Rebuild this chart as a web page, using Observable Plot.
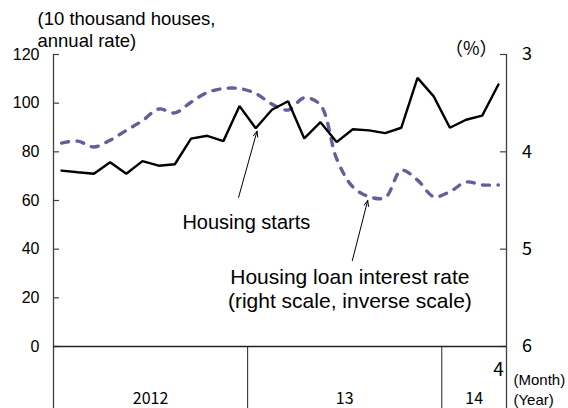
<!DOCTYPE html>
<html>
<head>
<meta charset="utf-8">
<script src="https://cdn.jsdelivr.net/npm/d3@7"></script>
<script src="https://cdn.jsdelivr.net/npm/@observablehq/plot@0.6"></script>
<style>
  html, body { margin: 0; padding: 0; background: #fff; }
  #chart svg { display: block; }
</style>
</head>
<body>
<div id="chart"></div>
<script>
// ---- Data ----
const months = [
  "2012-01","2012-02","2012-03","2012-04","2012-05","2012-06","2012-07","2012-08","2012-09","2012-10","2012-11","2012-12",
  "2013-01","2013-02","2013-03","2013-04","2013-05","2013-06","2013-07","2013-08","2013-09","2013-10","2013-11","2013-12",
  "2014-01","2014-02","2014-03","2014-04"
];
// Housing starts (10 thousand houses, annual rate)
const starts = [72.3, 71.6, 71.0, 75.7, 71.0, 76.2, 74.3, 74.9, 85.4, 86.6, 84.4, 98.8,
                89.7, 97.3, 100.8, 85.5, 92.2, 84.0, 89.3, 88.8, 87.7, 89.9, 110.4, 102.8,
                89.9, 93.2, 94.9, 107.7];
// Housing loan interest rate (%), right scale, inverse
const rate = [3.91, 3.89, 3.95, 3.88, 3.78, 3.68, 3.56, 3.60, 3.49, 3.39, 3.35, 3.35,
              3.40, 3.51, 3.57, 3.445, 3.52, 4.07, 4.36, 4.46, 4.47, 4.19, 4.29, 4.46,
              4.41, 4.31, 4.34, 4.34];

const leftTicks = [0, 20, 40, 60, 80, 100, 120];
const rightTicks = [3, 4, 5, 6];
const yearLabels = ["2012", "13", "14"];
const yearStarts = [0, 12, 24];
const monthTickLabels = [{i: 27, label: "4"}];

const leftLabel = "(10 thousand houses,\nannual rate)";
const rightLabel = "（%）";
const bottomUnits = "(Month)\n(Year)";

// annotations, positioned in data units (month index, left-scale value)
const notes1 = [{x: 11.42, y: 54.1, text: "Housing starts"}];
const notes2 = [{x: 17.82, y: 32.4, text: "Housing loan interest rate\n(right scale, inverse scale)"}];
const arrows = [
  {x1: 10.94, y1: 61.3, x2: 12.08, y2: 88.5},
  {x1: 17.97, y1: 35.3, x2: 18.92, y2: 60.0}
];

// ---- Layout ----
const W = 568, H = 408;
const mL = 53, mR = 62, mT = 54, mB = 62;
const plotH = H - mT - mB;
const plotW = W - mL - mR;
const tickLen = 6;
const x0 = -0.5, x1 = months.length - 0.5;
const tickUnits = tickLen * (x1 - x0) / plotW; // tick length in month units

// right (inverse) scale -> left units
const toLeft = r => 120 - (r - 3) * 40;
const fromLeft = v => 3 + (120 - v) / 40;

const data = months.map((m, i) => ({i, m, starts: starts[i], rateL: toLeft(rate[i])}));
const years = yearLabels.map((label, k) => {
  const s = yearStarts[k];
  const e = k + 1 < yearStarts.length ? yearStarts[k + 1] : months.length;
  return {label, mid: (s + e - 1) / 2};
});

const sans = "'Liberation Sans', Arial, sans-serif";
const cjk = "'Noto Sans CJK JP', sans-serif";

const chart = Plot.plot({
  width: W, height: H,
  marginLeft: mL, marginRight: mR, marginTop: mT, marginBottom: mB,
  x: {domain: [x0, x1], axis: null},
  y: {domain: [0, 120], axis: null},
  style: {fontFamily: sans, background: "#fff", color: "#000"},
  marks: [
    // left & right axis lines, extending into the bottom label area
    Plot.ruleX([x0, x1], {stroke: "#404040", strokeWidth: 1.3, insetBottom: -mB}),
    // year dividers below the axis
    Plot.ruleX(yearStarts.slice(1).map(s => s - 0.5), {stroke: "#222", strokeWidth: 1, insetTop: plotH, insetBottom: -mB}),
    // inward tick marks
    Plot.ruleY(leftTicks, {y: d => d, x1: x0, x2: x0 + tickUnits, stroke: "#404040", strokeWidth: 1.2}),
    Plot.ruleY(rightTicks.map(toLeft), {y: d => d, x1: x1 - tickUnits, x2: x1, stroke: "#404040", strokeWidth: 1.2}),
    // baseline
    Plot.ruleY([0], {stroke: "#222", strokeWidth: 1.3}),
    Plot.axisY(leftTicks, {anchor: "left", tickSize: 0, tickPadding: 14, fontSize: 16, label: null, fill: "#000"}),
    Plot.axisY(rightTicks.map(toLeft), {anchor: "right", tickSize: 0, tickPadding: 15.5, tickFormat: v => String(fromLeft(v)), fontSize: 18, fontFamily: cjk, label: null, fill: "#000"}),
    // series
    Plot.line(data, {x: "i", y: "rateL", stroke: "#6D5A9C", strokeWidth: 3.4, strokeDasharray: "7,8.5", strokeLinecap: "round", curve: "catmull-rom"}),
    Plot.line(data, {x: "i", y: "starts", stroke: "#000", strokeWidth: 2.4, strokeLinejoin: "miter"}),
    // annotations
    Plot.arrow(arrows, {x1: "x1", y1: "y1", x2: "x2", y2: "y2", stroke: "#000", strokeWidth: 1, headLength: 9, headAngle: 45}),
    Plot.text(notes1, {x: "x", y: "y", text: "text", fontSize: 20, lineAnchor: "top", textAnchor: "middle", fill: "#000"}),
    Plot.text(notes2, {x: "x", y: "y", text: "text", fontSize: 21, lineAnchor: "top", lineHeight: 1.12, textAnchor: "middle", fill: "#000"}),
    // bottom labels
    Plot.text(years, {x: "mid", y: () => 0, text: "label", dy: 52, fontSize: 16, fontFamily: cjk, fill: "#000"}),
    Plot.text(monthTickLabels, {x: "i", y: () => 0, text: "label", dy: 23, fontSize: 19, fontFamily: cjk, fill: "#000"}),
    Plot.text([bottomUnits], {frameAnchor: "bottom-right", dx: 7, dy: 42, textAnchor: "start", lineAnchor: "middle", lineHeight: 1.333, fontSize: 15, fill: "#000"}),
    // axis unit labels
    Plot.text([leftLabel], {frameAnchor: "top-left", dx: -16, dy: -44.4, textAnchor: "start", lineAnchor: "top", lineHeight: 1.17, fontSize: 18.5, fill: "#000"}),
    Plot.text([rightLabel], {frameAnchor: "top-right", dx: -9, dy: -12, fontSize: 18, fontFamily: cjk, fill: "#000"})
  ]
});
document.getElementById("chart").appendChild(chart);
</script>
</body>
</html>
